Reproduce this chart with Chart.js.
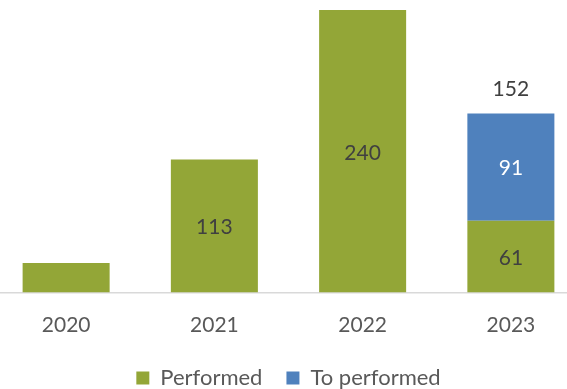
<!DOCTYPE html>
<html lang="en">
<head>
    <meta charset="UTF-8">
    <meta name="viewport" content="width=device-width, initial-scale=1.0">
    <script src="https://cdn.jsdelivr.net/npm/chart.js"></script>
    <title>Performed per year</title>
    <style>
        html, body { margin: 0; padding: 0; overflow: hidden; background: #fff; }
        #wrap { position: absolute; left: -8px; top: 0; width: 593px; height: 399px; }
    </style>
</head>
<body>
    <div id="wrap"><canvas id="yearChart" width="593" height="399"></canvas></div>

    <script>
        // Values per year
        const years = ['2020', '2021', '2022', '2023'];
        const performed = [25, 113, 240, 61];
        const toPerform = [null, null, null, 91];
        // which green bars carry a value label
        const labelShown = [false, true, true, true];

        const green = '#93a637';
        const blue = '#4f81bd';

        Chart.defaults.font.family = 'Lato, "Open Sans", sans-serif';

        // Value labels inside the bars and the total above the stacked bar
        const barLabels = {
          id: 'barLabels',
          afterDatasetsDraw(chart) {
            const ctx = chart.ctx;
            ctx.save();
            ctx.font = '21px Lato, "Open Sans", sans-serif';
            ctx.textAlign = 'center';
            ctx.textBaseline = 'middle';

            const greenMeta = chart.getDatasetMeta(0);
            const blueMeta = chart.getDatasetMeta(1);

            greenMeta.data.forEach((bar, i) => {
              if (!labelShown[i]) return;
              ctx.fillStyle = '#404040';
              ctx.fillText(performed[i], bar.x, (bar.y + bar.base) / 2 + 1.5);
            });

            blueMeta.data.forEach((bar, i) => {
              if (toPerform[i] == null) return;
              ctx.fillStyle = '#ffffff';
              ctx.fillText(toPerform[i], bar.x, (bar.y + bar.base) / 2 + 1.5);
              // total of both parts
              ctx.fillStyle = '#404040';
              ctx.fillText(performed[i] + toPerform[i], bar.x, bar.y - 24);
            });
            ctx.restore();
          }
        };

        const ctx = document.getElementById('yearChart').getContext('2d');

        const yearChart = new Chart(ctx, {
          type: 'bar',
          data: {
            labels: years,
            datasets: [
              {
                label: 'Performed',
                data: performed,
                backgroundColor: green,
                borderWidth: 0,
                categoryPercentage: 0.587,
                barPercentage: 1,
              },
              {
                label: 'To performed',
                data: toPerform,
                backgroundColor: blue,
                borderWidth: 0,
                categoryPercentage: 0.587,
                barPercentage: 1,
              },
            ],
          },
          options: {
            responsive: false,
            animation: false,
            layout: { padding: 0 },
            scales: {
              x: {
                stacked: true,
                grid: { display: false, drawTicks: false },
                border: { display: true, color: '#d9d9d9', width: 1.5 },
                ticks: {
                  color: '#595959',
                  font: { size: 21 },
                  padding: 20,
                },
                // fixed axis band so the legend sits right under the labels
                afterFit(scale) {
                  scale.height = 50.5;
                },
              },
              y: {
                stacked: true,
                display: false,
                min: 0,
                max: 248.5,
              },
            },
            plugins: {
              legend: {
                position: 'bottom',
                labels: {
                  color: '#595959',
                  font: { size: 22 },
                  boxWidth: 13,
                  boxHeight: 13,
                  padding: 24,
                },
              },
              tooltip: { enabled: false },
            },
          },
          plugins: [barLabels],
        });
    </script>
</body>
</html>
